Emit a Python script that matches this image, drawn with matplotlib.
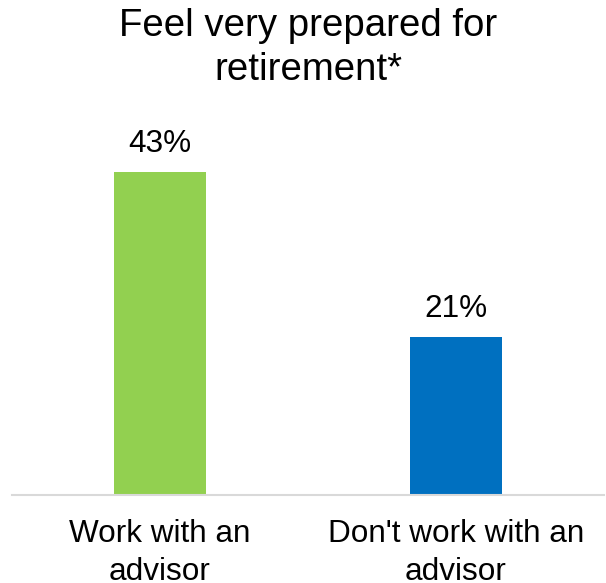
import matplotlib
matplotlib.use("Agg")
import matplotlib.pyplot as plt

plt.rcParams['font.family'] = ['Liberation Sans', 'DejaVu Sans']

categories = ["Work with an\nadvisor", "Don't work with an\nadvisor"]
values = [43, 21]
value_labels = ["43%", "21%"]
bar_colors = ["#92D050", "#0070C0"]
title_text = "Feel very prepared for\nretirement*"

fig = plt.figure(figsize=(6.06, 5.83), dpi=100)
W, H = 606, 583
base_y = 494.5
ax = fig.add_axes([12 / W, (H - base_y) / H, 592 / W, 374.5 / H])

x = list(range(len(categories)))
ax.bar(x, values, width=0.314, color=bar_colors, zorder=2)
ax.set_xlim(-0.5, 1.5)
ax.set_ylim(0, 50)

for xi, v, lab in zip(x, values, value_labels):
    ax.annotate(lab, (xi, v), xytext=(0, 14.4), textcoords="offset points",
                ha="center", va="baseline", fontsize=22.7, color="black")

ax.set_xticks(x)
ax.set_xticklabels(categories, fontsize=22.7, linespacing=1.33)
ax.tick_params(axis="x", length=0, pad=18)
ax.set_yticks([])
for s in ["top", "right", "left"]:
    ax.spines[s].set_visible(False)
ax.spines["bottom"].set_color("#D9D9D9")
ax.spines["bottom"].set_linewidth(1.5)

fig.text(308 / W, 1 - 8 / H, title_text, ha="center", va="top",
         fontsize=27.6, linespacing=1.28)

fig.savefig("out.png", dpi=100)
